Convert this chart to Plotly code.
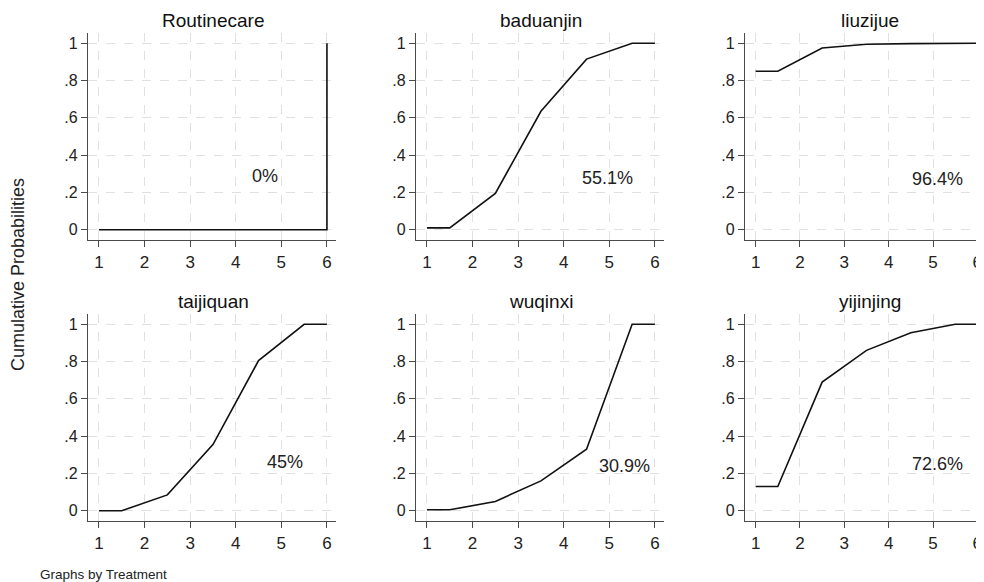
import plotly.graph_objects as go

treatments = ["Routinecare", "baduanjin", "liuzijue", "taijiquan", "wuqinxi", "yijinjing"]
rank_x = [1, 1.5, 2.5, 3.5, 4.5, 5.5, 6]
routine_x = [1, 6, 6]
routine_y = [0, 0, 1]
cum_prob = {
    "baduanjin": [0.01, 0.01, 0.195, 0.635, 0.915, 1.0, 1.0],
    "liuzijue": [0.85, 0.85, 0.975, 0.995, 0.998, 1.0, 1.0],
    "taijiquan": [0.0, 0.0, 0.085, 0.355, 0.805, 1.0, 1.0],
    "wuqinxi": [0.005, 0.005, 0.05, 0.16, 0.33, 1.0, 1.0],
    "yijinjing": [0.13, 0.13, 0.69, 0.86, 0.955, 1.0, 1.0],
}
sucra_labels = ["0%", "55.1%", "96.4%", "45%", "30.9%", "72.6%"]
label_x = [4.64, 4.95, 5.1, 5.08, 5.34, 5.1]
label_y = [0.29, 0.28, 0.27, 0.26, 0.24, 0.25]
x_ticks = [1, 2, 3, 4, 5, 6]
y_ticks = [0, 0.2, 0.4, 0.6, 0.8, 1]
y_ticktext = ["0", ".2", ".4", ".6", ".8", "1"]

# page body has an 8px margin; figure is sized to fill the rest of the window
OFF = 8
W, H = 984 - OFF, 582 - OFF
px_per_x = 45.6
col_left_px = [88, 416, 745]
row_px = [(33, 240), (314, 521)]


def fx(px):
    return (px - OFF) / W


def fy(py):
    return 1 - (py - OFF) / H


fig = go.Figure()
layout = dict(
    width=W, height=H,
    margin=dict(l=0, r=0, t=0, b=0, autoexpand=False),
    paper_bgcolor="white", plot_bgcolor="white",
    showlegend=False,
    font=dict(family="Liberation Sans, Arial, sans-serif", color="#222"),
)
annotations = []
for i, name in enumerate(treatments):
    r, c = divmod(i, 3)
    n = i + 1
    xa = "x" if n == 1 else f"x{n}"
    ya = "y" if n == 1 else f"y{n}"
    left = col_left_px[c]
    right = min(left + (6.2 - 0.76) * px_per_x, W + OFF)
    xr_end = max(0.76 + (right - left) / px_per_x, 6.15)
    top, bot = row_px[r]
    if name == "Routinecare":
        xs, ys = routine_x, routine_y
    else:
        xs, ys = rank_x, cum_prob[name]
    fig.add_trace(go.Scatter(x=xs, y=ys, mode="lines",
                             line=dict(color="#111", width=1.6),
                             xaxis=xa, yaxis=ya, hoverinfo="skip", cliponaxis=False))
    axis_common = dict(
        showline=True, linecolor="#4a4a4a", linewidth=1.3,
        ticks="outside", ticklen=6, tickcolor="#4a4a4a", tickwidth=1.2,
        showgrid=True, gridcolor="#e0e0e0", griddash="dash", gridwidth=1,
        zeroline=False, fixedrange=True, automargin=False,
        ticklabeloverflow="allow",
    )
    layout["xaxis" if n == 1 else f"xaxis{n}"] = dict(
        axis_common, domain=[fx(left), fx(right)], range=[0.76, xr_end],
        tickvals=x_ticks, anchor=ya, tickfont=dict(size=17, color="#222"),
    )
    layout["yaxis" if n == 1 else f"yaxis{n}"] = dict(
        axis_common, domain=[fy(bot), fy(top)], range=[-0.055, 1.055],
        tickvals=y_ticks, ticktext=y_ticktext, anchor=xa,
        tickfont=dict(size=16, color="#222"),
    )
    annotations.append(dict(
        text=name, xref="paper", yref="paper",
        x=fx(left + 11 + 2.5 * px_per_x), y=fy(top - 13),
        showarrow=False, font=dict(size=19, color="#111"),
        xanchor="center", yanchor="middle",
    ))
    annotations.append(dict(
        text=sucra_labels[i], xref=xa, yref=ya, x=label_x[i], y=label_y[i],
        showarrow=False, font=dict(size=18, color="#222"),
        xanchor="center", yanchor="middle",
    ))

annotations.append(dict(
    text="Cumulative Probabilities", xref="paper", yref="paper",
    x=fx(18), y=fy(275), textangle=-90, showarrow=False,
    font=dict(size=18, color="#222"), xanchor="center", yanchor="middle",
))
annotations.append(dict(
    text="Graphs by Treatment", xref="paper", yref="paper",
    x=fx(38), y=fy(574), showarrow=False,
    font=dict(size=13.5, color="#222"), xanchor="left", yanchor="middle",
))
layout["annotations"] = annotations
fig.update_layout(**layout)
fig.write_html("out.html")
